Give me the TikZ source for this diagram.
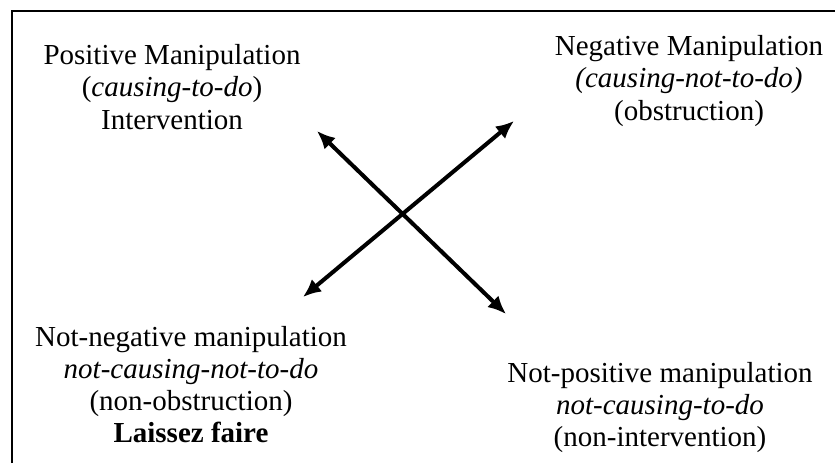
\documentclass[tikz,border=0pt]{standalone}
\usepackage{fontspec}
\setmainfont{Liberation Serif}
\usetikzlibrary{arrows.meta}
\tikzset{
  lbl/.style={anchor=base, inner sep=0pt, font=\fontsize{29}{32}\selectfont},
  dbl/.style={line width=4pt, {Latex[length=18pt,width=16pt]}-{Latex[length=18pt,width=16pt]}},
  shad/.style={dbl, draw=black!35, opacity=0.35, shift={(1.5,2)}},
  frame/.style={line width=2pt}
}
\begin{document}
\begin{tikzpicture}[x=1pt,y=-1pt]
\useasboundingbox (0,0) rectangle (835,463);
\draw[frame] (11.5,463) -- (11.5,10.5) -- (835,10.5);
% top-left
\node[lbl] (tl1) at (172,64) {Positive Manipulation};
\node[lbl] (tl2) at (172,96.5) {(\textit{causing-to-do})};
\node[lbl] (tl3) at (172,129) {Intervention};
% top-right
\node[lbl] (tr1) at (689,55) {Negative Manipulation};
\node[lbl] (tr2) at (689,87.5) {\textit{(causing-not-to-do)}};
\node[lbl] (tr3) at (689,120) {(obstruction)};
% bottom-left
\node[lbl] (bl1) at (191,346) {Not-negative manipulation};
\node[lbl] (bl2) at (191,378) {\textit{not-causing-not-to-do}};
\node[lbl] (bl3) at (191,410) {(non-obstruction)};
\node[lbl] (bl4) at (191,442) {\textbf{Laissez faire}};
% bottom-right
\node[lbl] (br1) at (660,382) {Not-positive manipulation};
\node[lbl] (br2) at (660,414) {\textit{not-causing-to-do}};
\node[lbl] (br3) at (660,446) {(non-intervention)};
% arrows
\coordinate (a1) at (317,131);
\coordinate (a2) at (506,314);
\coordinate (b1) at (303,297);
\coordinate (b2) at (514,121);
\draw[shad] (a1) -- (a2);
\draw[shad] (b1) -- (b2);
\draw[dbl] (a1) -- (a2);
\draw[dbl] (b1) -- (b2);
\end{tikzpicture}
\end{document}
